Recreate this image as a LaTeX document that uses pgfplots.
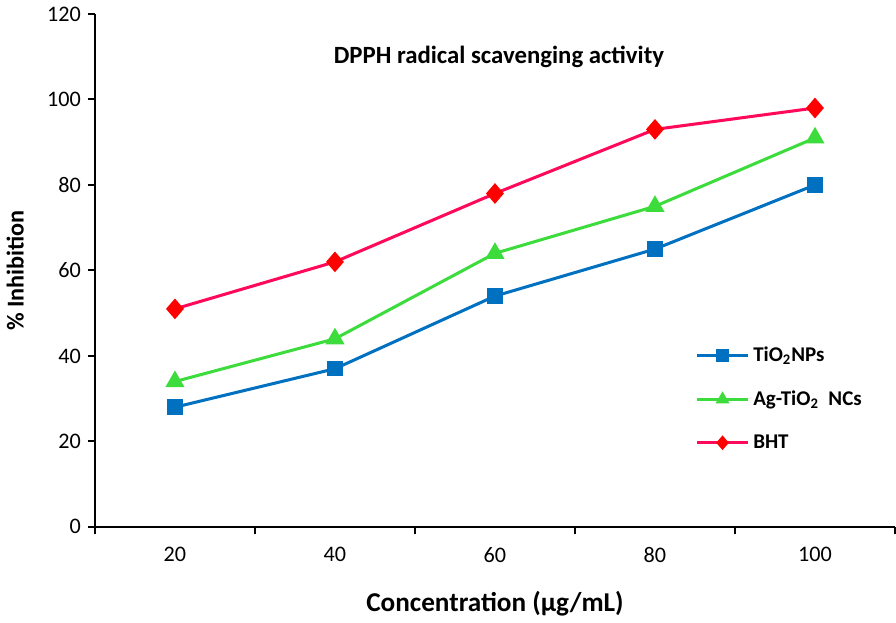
\documentclass[border=0pt]{standalone}
\usepackage{fontspec}
\setmainfont{Carlito}
\usepackage{pgfplots}
\pgfplotsset{compat=1.18}

\definecolor{tiblue}{RGB}{0,112,192}
\definecolor{aggreen}{RGB}{60,220,60}
\definecolor{bhtline}{RGB}{255,10,90}
\definecolor{bhtmark}{RGB}{255,0,0}

\begin{document}
\begin{tikzpicture}
\begin{axis}[
    scale only axis,
    width=397pt, height=254.5pt,
    xmin=0.5, xmax=5.5,
    ymin=0, ymax=120,
    axis lines*=left,
    axis line style={line width=1pt, black},
    xtick={1,2,3,4,5},
    xticklabels={20,40,60,80,100},
    major x tick style={draw=none},
    minor xtick={0.5,1.5,2.5,3.5,4.5,5.5},
    ytick={0,20,40,60,80,100,120},
    tick align=outside,
    tick style={black, line width=1pt},
    major tick length=3.5pt, minor tick length=3.5pt,
    /pgf/number format/assume math mode=true,
    ticklabel style={font=\fontsize{11}{13}\selectfont},
    xticklabel style={yshift=-3pt},
    xlabel={Concentration (µg/mL)},
    ylabel={\% Inhibition},
    every axis x label/.style={at={(axis description cs:0.5,-0.149)}, anchor=center,
        font=\bfseries\fontsize{13.5}{16}\selectfont},
    every axis y label/.style={at={(axis description cs:-0.0995,0.5)}, rotate=90, anchor=center,
        font=\bfseries\fontsize{12}{14}\selectfont},
    legend style={at={(axis description cs:0.743,0.368)}, anchor=north west,
        draw=none, fill=none, row sep=9pt,
        font=\bfseries\fontsize{10.4}{12}\selectfont},
    legend cell align=left,
    legend image code/.code={\draw[mark repeat=2,mark phase=2,#1,mark size=2.5pt] plot coordinates {(0pt,0pt) (12.5pt,0pt) (25pt,0pt)};},
]
\addplot[tiblue, line width=1.5pt, mark=square*, mark size=3.1pt, mark options={solid, fill=tiblue}]
coordinates {(1,28) (2,37) (3,54) (4,65) (5,80)};
\addlegendentry{TiO\textsubscript{2}NPs}
\addplot[aggreen, line width=1.5pt, mark=triangle*, mark size=4pt, mark options={solid, fill=aggreen}]
coordinates {(1,34) (2,44) (3,64) (4,75) (5,91)};
\addlegendentry{Ag-TiO\textsubscript{2}\ \ NCs}
\addplot[bhtline, line width=1.5pt, mark=diamond*, mark size=4pt, mark options={solid, draw=bhtmark, fill=bhtmark, xscale=1.15}]
coordinates {(1,51) (2,62) (3,78) (4,93) (5,98)};
\addlegendentry{BHT}
\node[font=\bfseries\fontsize{12.3}{14}\selectfont] at (rel axis cs:0.505,0.917) {DPPH radical scavenging activity};
\end{axis}
\end{tikzpicture}
\end{document}
